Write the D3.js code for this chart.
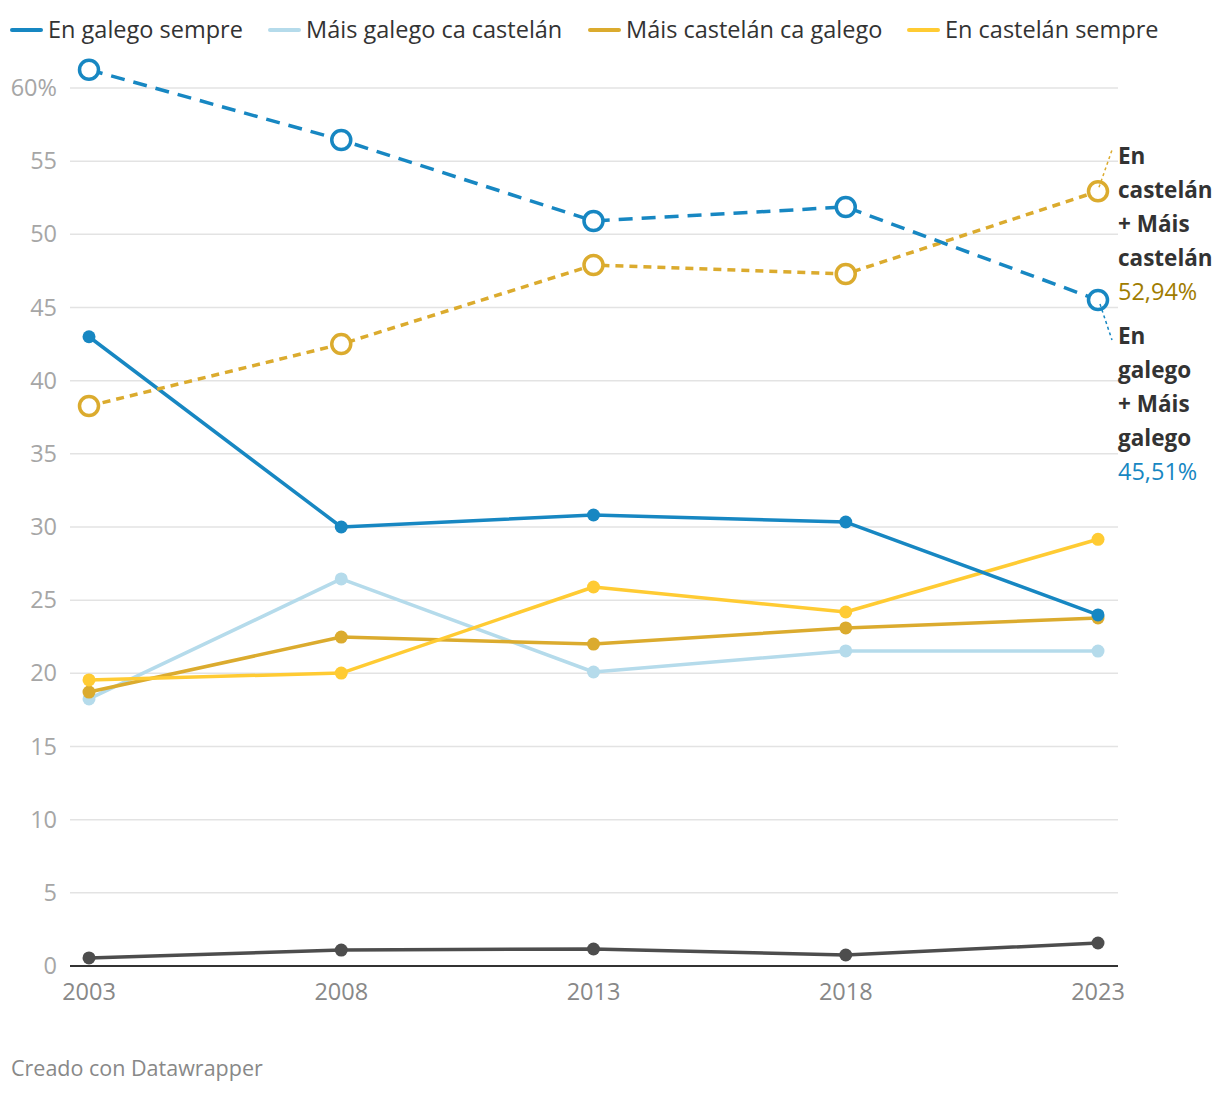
<!DOCTYPE html>
<html><head><meta charset="utf-8">
<script src="https://cdn.jsdelivr.net/npm/d3@7"></script>
<style>
body{margin:0;background:#fff;font-family:"Open Sans","Noto Sans",sans-serif;}
</style></head>
<body><svg id="c" width="1220" height="1094"></svg>
<script>
const years = [2003, 2008, 2013, 2018, 2023];
const galegoSempre = [43.0, 30.0, 30.82, 30.34, 23.99];
const maisGalego = [18.25, 26.45, 20.09, 21.53, 21.52];
const maisCastelan = [18.72, 22.48, 22.0, 23.1, 23.78];
const castelanSempre = [19.55, 20.02, 25.9, 24.19, 29.16];
const outros = [0.55, 1.09, 1.16, 0.75, 1.57];
const totalGalego = [61.25, 56.45, 50.91, 51.87, 45.51];
const totalCastelan = [38.27, 42.5, 47.9, 47.29, 52.94];
const yTicks = [0, 5, 10, 15, 20, 25, 30, 35, 40, 45, 50, 55, 60];
const legendNames = ["En galego sempre", "Máis galego ca castelán", "Máis castelán ca galego", "En castelán sempre"];

const svg = d3.select("#c");
const x = d3.scalePoint().domain(years).range([89, 1098]);
const y = d3.scaleLinear().domain([0, 60]).range([966, 88]);

// grid
const g = svg.append("g");
g.selectAll("line.grid").data(yTicks.filter(d => d > 0)).join("line")
  .attr("x1", 70).attr("x2", 1118).attr("y1", d => y(d)).attr("y2", d => y(d))
  .attr("stroke", "#e3e3e3").attr("stroke-width", 1.5);
g.selectAll("text.yt").data(yTicks).join("text")
  .attr("x", 57).attr("y", d => y(d) + 8).attr("text-anchor", "end")
  .attr("font-size", 23.5).attr("fill", "#a6a6a6")
  .text(d => d === 60 ? "60%" : d);
g.append("line").attr("x1", 70).attr("x2", 1118).attr("y1", y(0)).attr("y2", y(0))
  .attr("stroke", "#333").attr("stroke-width", 2);
g.selectAll("text.xt").data(years).join("text")
  .attr("x", d => x(d)).attr("y", 1000).attr("text-anchor", "middle")
  .attr("font-size", 23.5).attr("fill", "#888").text(d => d);

const line = d3.line().x((d, i) => x(years[i])).y(d => y(d));

function solid(data, color) {
  svg.append("path").datum(data).attr("d", line).attr("fill", "none")
    .attr("stroke", color).attr("stroke-width", 3.5).attr("stroke-linejoin", "round");
  svg.selectAll(null).data(data).join("circle")
    .attr("cx", (d, i) => x(years[i])).attr("cy", d => y(d)).attr("r", 6.5).attr("fill", color);
}
solid(outros, "#4d4d4d");
solid(maisGalego, "#b5dbeb");
solid(maisCastelan, "#dbab2e");
solid(castelanSempre, "#ffcb33");
solid(galegoSempre, "#1787c2");

function dashed(data, color, dash) {
  svg.append("path").datum(data).attr("d", line).attr("fill", "none")
    .attr("stroke", color).attr("stroke-width", 3.5).attr("stroke-dasharray", dash);
  svg.selectAll(null).data(data).join("circle")
    .attr("cx", (d, i) => x(years[i])).attr("cy", d => y(d)).attr("r", 9.5)
    .attr("fill", "#fff").attr("stroke", color).attr("stroke-width", 3.5);
}
dashed(totalCastelan, "#dbab2e", "8,6");
dashed(totalGalego, "#1787c2", "14,9");

// annotation connectors
const lastX = x(2023);
svg.append("line").attr("x1", lastX + 1).attr("y1", y(totalCastelan[4]) - 4)
  .attr("x2", 1112).attr("y2", 150).attr("stroke", "#dbab2e").attr("stroke-width", 1.5).attr("stroke-dasharray", "3,3");
svg.append("line").attr("x1", lastX + 2).attr("y1", y(totalGalego[4]) + 4)
  .attr("x2", 1112).attr("y2", 340).attr("stroke", "#1787c2").attr("stroke-width", 1.5).attr("stroke-dasharray", "3,3");

function annot(lines, value, color, top) {
  const t = svg.append("text").attr("x", 1118);
  lines.forEach((l, i) => {
    t.append("tspan").attr("x", 1118).attr("y", top + i * 34).attr("font-size", 22.5)
      .attr("font-weight", 700).attr("fill", "#333").text(l);
  });
  t.append("tspan").attr("x", 1118).attr("y", top + lines.length * 34).attr("font-size", 23.5)
    .attr("fill", color).text(value);
}
annot(["En", "castelán", "+ Máis", "castelán"], totalCastelan[4].toFixed(2).replace(".", ",") + "%", "#a07c00", 164);
annot(["En", "galego", "+ Máis", "galego"], totalGalego[4].toFixed(2).replace(".", ",") + "%", "#1787c2", 344);

// legend
const legColors = ["#1787c2", "#b5dbeb", "#dbab2e", "#ffcb33"];
const legX = [12, 270, 590, 909];
legendNames.forEach((n, i) => {
  svg.append("line").attr("x1", legX[i]).attr("x2", legX[i] + 29).attr("y1", 30).attr("y2", 30)
    .attr("stroke", legColors[i]).attr("stroke-width", 4).attr("stroke-linecap", "round");
  svg.append("text").attr("x", legX[i] + 36).attr("y", 38).attr("font-size", 23.5).attr("fill", "#333").text(n);
});

svg.append("text").attr("x", 11).attr("y", 1076).attr("font-size", 21.5).attr("fill", "#888").text("Creado con Datawrapper");
</script></body></html>
